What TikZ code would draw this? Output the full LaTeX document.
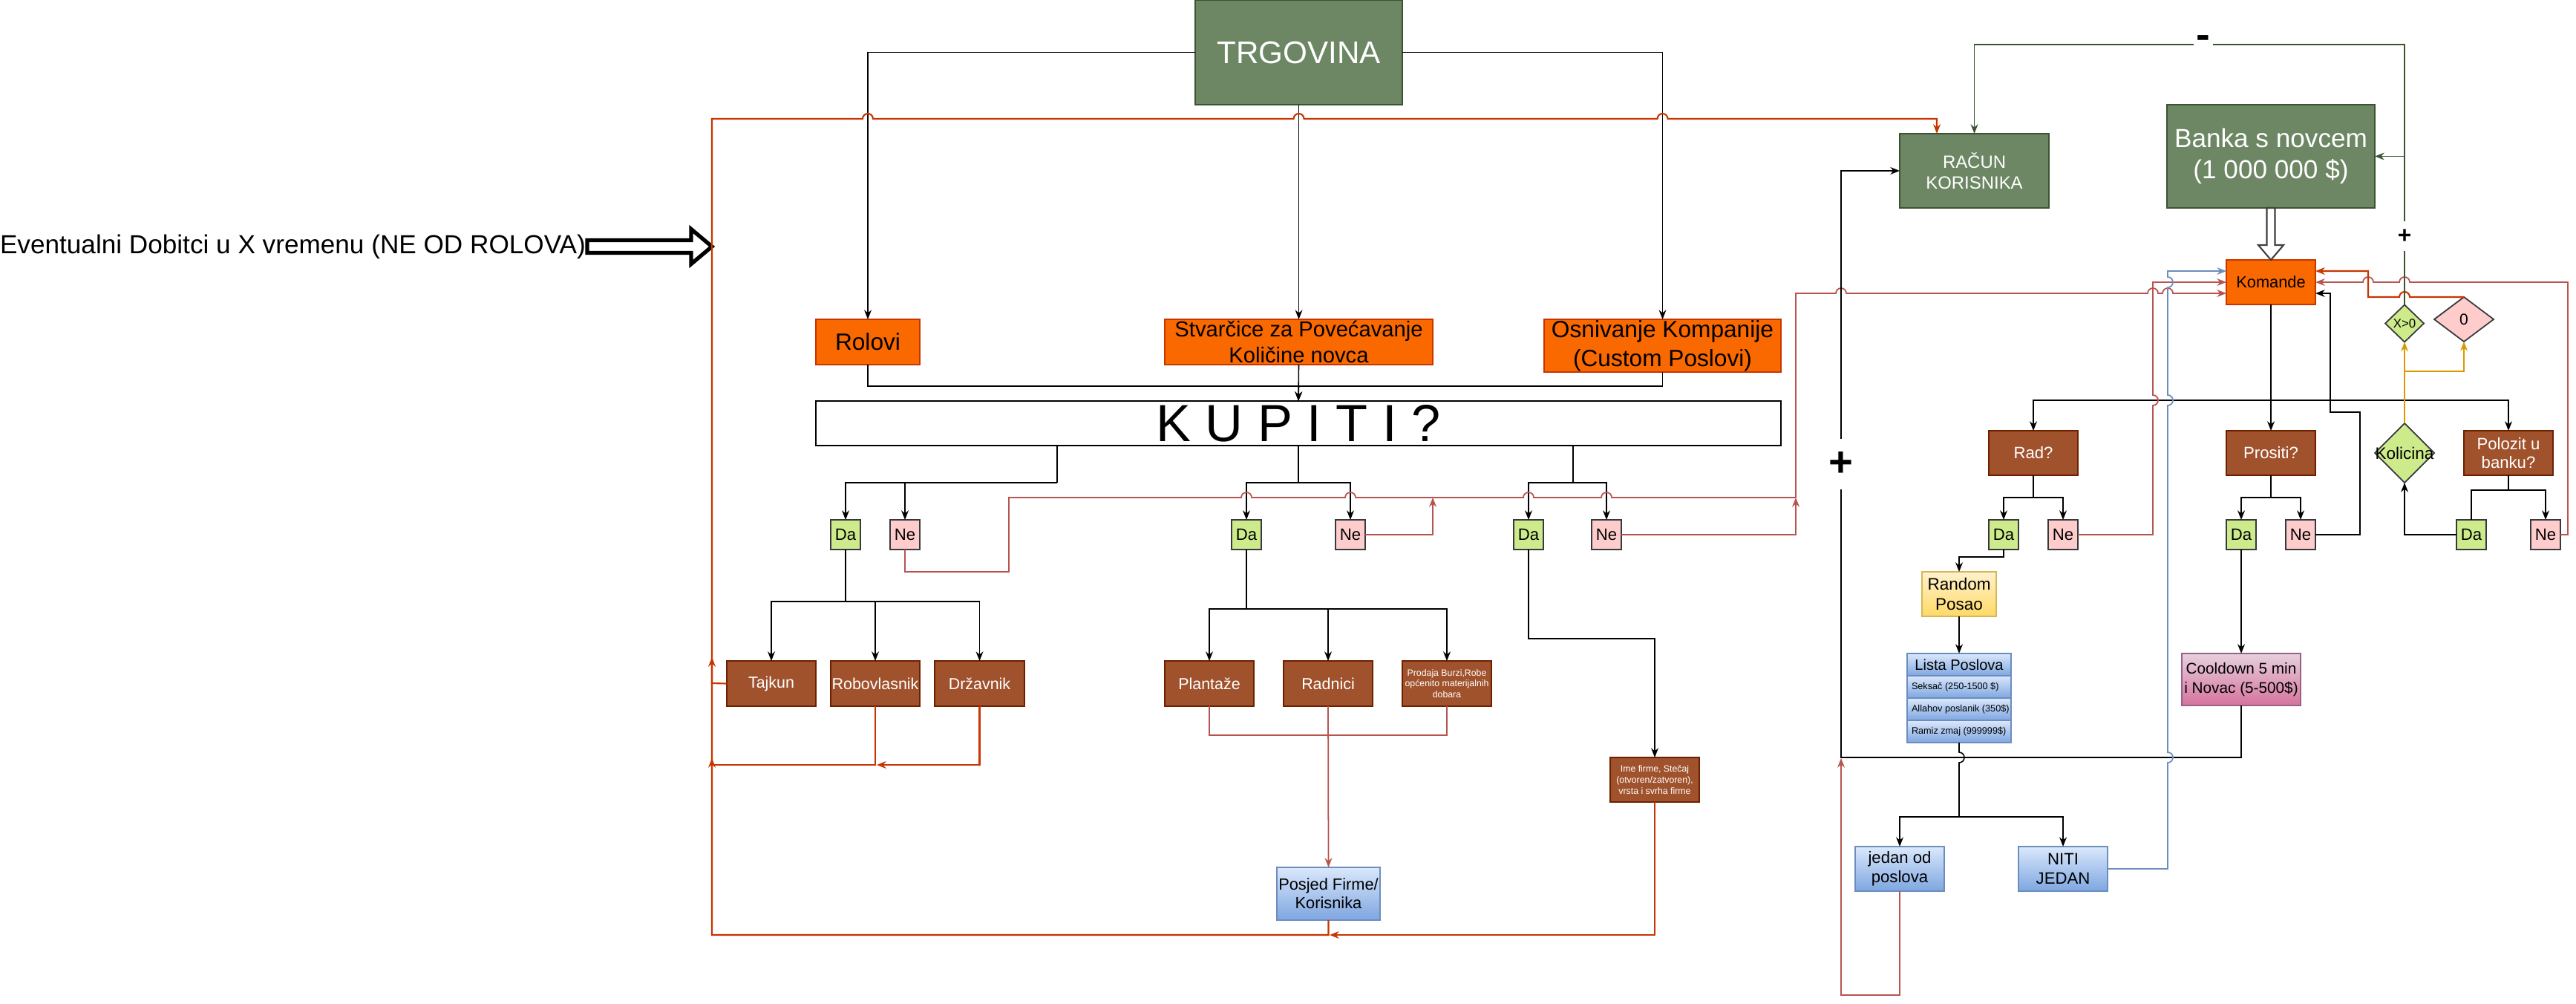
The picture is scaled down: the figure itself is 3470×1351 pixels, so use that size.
\documentclass[tikz,border=0pt]{standalone}
\usepackage{fontspec}
\setmainfont{Liberation Sans}
\usetikzlibrary{arrows.meta,shapes.geometric,calc}
\definecolor{cGf}{HTML}{6D8764}
\definecolor{cGs}{HTML}{3A5431}
\definecolor{cOf}{HTML}{FA6800}
\definecolor{cOs}{HTML}{C73500}
\definecolor{cBf}{HTML}{A0522D}
\definecolor{cBs}{HTML}{6D1F00}
\definecolor{cDa}{HTML}{CDEB8B}
\definecolor{cNe}{HTML}{FFCCCC}
\definecolor{cDN}{HTML}{36393D}
\definecolor{cBlA}{HTML}{DAE8FC}
\definecolor{cBlB}{HTML}{7EA6E0}
\definecolor{cBlS}{HTML}{6C8EBF}
\definecolor{cYeA}{HTML}{FFF2CC}
\definecolor{cYeB}{HTML}{FFD966}
\definecolor{cYeS}{HTML}{D6B656}
\definecolor{cPkA}{HTML}{E6D0DE}
\definecolor{cPkB}{HTML}{D5739D}
\definecolor{cPkS}{HTML}{996185}
\definecolor{cRl}{HTML}{B85450}
\definecolor{cOl}{HTML}{D79B00}
\newcommand\fsz[2]{\fontsize{#1}{#2}\selectfont}
\newcommand\bx[7]{\node[#6,minimum width={(#4-#2)*0.01cm},minimum height={(#5-#3)*0.01cm}] (#1) at ({(#2+#4)/2},{(#3+#5)/2}) {#7};}
\tikzset{
 nd/.style={inner sep=0pt,outer sep=0pt,align=center,line width=0.5pt},
 gbox/.style={nd,draw=cGs,fill=cGf,text=white},
 obox/.style={nd,draw=cOs,fill=cOf,text=black},
 bbox/.style={nd,draw=cBs,fill=cBf,text=white},
 dabox/.style={nd,draw=cDN,fill=cDa,font=\fsz{6.3}{7.5}},
 nebox/.style={nd,draw=cDN,fill=cNe,font=\fsz{6.3}{7.5}},
 blbox/.style={nd,draw=cBlS,top color=cBlA,bottom color=cBlB},
 yebox/.style={nd,draw=cYeS,top color=cYeA,bottom color=cYeB},
 pkbox/.style={nd,draw=cPkS,top color=cPkA,bottom color=cPkB},
 arw/.style={-{Stealth[length=3.6pt,width=2.8pt]}},
 lnbk/.style={line width=0.45pt,draw=black},
 lnrd/.style={line width=0.5pt,draw=cRl},
 lnro/.style={line width=0.6pt,draw=cOs},
 lngr/.style={line width=0.5pt,draw=cGs},
 lnol/.style={line width=0.5pt,draw=cOl},
 lnbl/.style={line width=0.5pt,draw=cBlS},
}
\begin{document}
\begin{tikzpicture}[x=0.01cm,y=-0.01cm]
\fill[white] (0,0) rectangle (3470,1351);
\useasboundingbox (0,0) rectangle (3470,1351);
% ---------- nodes ----------
\node[nd,anchor=west,font=\fsz{10}{12}] (ev) at (0,332) {Eventualni Dobitci u X vremenu (NE OD ROLOVA)};
\bx{trg}{1610}{0}{1889}{141}{gbox,font=\fsz{12}{14}}{TRGOVINA}
\bx{rol}{1099}{430}{1239}{491}{obox,font=\fsz{9}{11}}{Rolovi}
\bx{stv}{1569}{430}{1930}{491}{obox,font=\fsz{8.3}{10}}{Stvarčice za Povećavanje\\Količine novca}
\bx{osn}{2080}{430}{2399}{501}{obox,font=\fsz{9}{11}}{Osnivanje Kompanije\\(Custom Poslovi)}
\bx{kup}{1099}{540}{2399}{600}{nd,draw=black,fill=white,font=\fsz{20}{22}}{K U P I T I ?}
\bx{da1}{1119}{700}{1159}{740}{dabox}{Da}
\bx{ne1}{1199}{700}{1239}{740}{nebox}{Ne}
\bx{da2}{1659}{700}{1699}{740}{dabox}{Da}
\bx{ne2}{1799}{700}{1839}{740}{nebox}{Ne}
\bx{da3}{2039}{700}{2079}{740}{dabox}{Da}
\bx{ne3}{2144}{700}{2184}{740}{nebox}{Ne}
\bx{taj}{979}{890}{1099}{951}{bbox,font=\fsz{6.1}{7}}{Tajkun}
\bx{rob}{1119}{890}{1239}{951}{bbox,font=\fsz{6.1}{7}}{Robovlasnik}
\bx{drz}{1259}{890}{1380}{951}{bbox,font=\fsz{6.1}{7}}{Državnik}
\bx{pla}{1569}{890}{1689}{951}{bbox,font=\fsz{6.1}{7}}{Plantaže}
\bx{rdn}{1729}{890}{1849}{951}{bbox,font=\fsz{6.1}{7}}{Radnici}
\bx{pro}{1889}{890}{2009}{951}{bbox,font=\fsz{3.5}{4.2}}{Prodaja Burzi,Robe\\općenito materijalnih\\dobara}
\bx{ime}{2169}{1020}{2289}{1080}{bbox,font=\fsz{3.5}{4.2}}{Ime firme, Stečaj\\(otvoren/zatvoren),\\vrsta i svrha firme}
\bx{pos}{1720}{1168}{1859}{1239}{blbox,font=\fsz{6.2}{7.2}}{Posjed Firme/\\Korisnika}
\bx{rac}{2559}{180}{2760}{280}{gbox,font=\fsz{6.8}{8}}{RAČUN\\KORISNIKA}
\bx{ban}{2919}{141}{3199}{280}{gbox,font=\fsz{10}{12}}{Banka s novcem\\(1 000 000 \$)}
\bx{kom}{2999}{350}{3119}{410}{obox,font=\fsz{6.2}{7}}{Komande}
\node[nd,diamond,draw=cDN,fill=cDa,minimum width=0.52cm,minimum height=0.5cm] (xg) at (3239,435.5) {};
\node[nd,font=\fsz{4.8}{5}] (xgt) at (xg) {X>0};
\node[nd,diamond,draw=cDN,fill=cNe,minimum width=0.8cm,minimum height=0.6cm] (zero) at (3319,430) {};
\node[nd,font=\fsz{6}{7}] (zerot) at (zero) {0};
\node[nd,diamond,draw=cDN,fill=cDa,minimum width=0.8cm,minimum height=0.8cm] (kol) at (3239,610) {};
\node[nd,font=\fsz{6.4}{7}] (kolt) at (kol) {Kolicina};
\bx{rad}{2679}{580}{2799}{640}{bbox,font=\fsz{6.3}{7.5}}{Rad?}
\bx{prs}{2999}{580}{3119}{640}{bbox,font=\fsz{6.3}{7.5}}{Prositi?}
\bx{pol}{3319}{580}{3439}{640}{bbox,font=\fsz{6.3}{7.2}}{Polozit u\\banku?}
\bx{rda}{2679}{700}{2719}{740}{dabox}{Da}
\bx{rne}{2759}{700}{2799}{740}{nebox}{Ne}
\bx{pda}{2999}{700}{3039}{740}{dabox}{Da}
\bx{pne}{3079}{700}{3119}{740}{nebox}{Ne}
\bx{lda}{3309}{700}{3349}{740}{dabox}{Da}
\bx{lne}{3409}{700}{3449}{740}{nebox}{Ne}
\bx{rnd}{2589}{770}{2689}{830}{yebox,font=\fsz{6.4}{7.6}}{Random\\Posao}
\bx{lst}{2569}{880}{2709}{910}{blbox,font=\fsz{5.7}{7}}{Lista Poslova}
\bx{ls1}{2569}{910}{2709}{940}{blbox,font=\fsz{3.6}{4.3}}{\makebox[1.28cm][l]{Seksač (250-1500 \$)}}
\bx{ls2}{2569}{940}{2709}{970}{blbox,font=\fsz{3.6}{4.3}}{\makebox[1.28cm][l]{Allahov poslanik (350\$)}}
\bx{ls3}{2569}{970}{2709}{1000}{blbox,font=\fsz{3.6}{4.3}}{\makebox[1.28cm][l]{Ramiz zmaj (999999\$)}}
\bx{cool}{2939}{880}{3099}{950}{pkbox,font=\fsz{5.9}{7.6}}{Cooldown 5 min\\i Novac (5-500\$)}
\bx{jed}{2499}{1140}{2619}{1200}{blbox,font=\fsz{6.3}{7.4}}{jedan od\\poslova}
\bx{nit}{2719}{1140}{2839}{1200}{blbox,font=\fsz{6.3}{7.4}}{NITI\\JEDAN}
% ---------- coordinates ----------
\coordinate (kwA) at ($(kom.north west)+(0,15)$);
\coordinate (kwB) at ($(kom.north west)+(0,30)$);
\coordinate (kwC) at ($(kom.north west)+(0,45)$);
\coordinate (keA) at ($(kom.north east)+(0,15)$);
\coordinate (keB) at ($(kom.north east)+(0,30)$);
\coordinate (keC) at ($(kom.north east)+(0,45)$);
% ---------- hollow arrows ----------
\draw[line width=1.5pt,fill=white] (791,323.5) -- (931,323.5) -- (931,308.5) -- (959,332) -- (931,355.5) -- (931,340.5) -- (791,340.5) -- cycle;
\draw[line width=0.6pt,draw=black!75,fill=white] ($(ban.south)+(-5.5,0)$) -- ($(ban.south)+(5.5,0)$) -- ($(ban.south)+(5.5,50)$) -- ($(ban.south)+(17,50)$) -- (kom.north) -- ($(ban.south)+(-17,50)$) -- ($(ban.south)+(-5.5,50)$) -- cycle;
% ---------- TRGOVINA part ----------
\draw[lnbk,arw] (trg.west) -| (rol.north);
\draw[lnbk,arw] (trg.east) -| (osn.north);
\draw[lnbk,arw] (trg.south) -- (stv.north);
\draw[lnbk,arw] (stv.south) -- (kup.north);
\coordinate (kj) at (1749.5,520);
\draw[lnbk] (rol.south) |- (kj) -| (osn.south);
\draw[lnbk,arw] (kj) -- (kup.north);
\coordinate (ks1) at (1424,650);
\coordinate (ks2) at (1749,650);
\coordinate (ks3) at (2119,650);
\draw[lnbk] (kup.south -| ks1) -- (ks1);
\draw[lnbk] (kup.south -| ks2) -- (ks2);
\draw[lnbk] (kup.south -| ks3) -- (ks3);
\draw[lnbk,arw] (ks1) -| (da1.north);
\draw[lnbk,arw] (ks1) -| (ne1.north);
\draw[lnbk,arw] (ks2) -| (da2.north);
\draw[lnbk,arw] (ks2) -| (ne2.north);
\draw[lnbk,arw] (ks3) -| (da3.north);
\draw[lnbk,arw] (ks3) -| (ne3.north);
\coordinate (d1) at (1139,810);
\draw[lnbk] (da1.south) -- (d1);
\draw[lnbk,arw] (d1) -| (taj.north);
\draw[lnbk,arw] (d1) -| (rob.north);
\draw[lnbk,arw] (d1) -| (drz.north);
\coordinate (d2) at (1679,820);
\draw[lnbk] (da2.south) -- (d2);
\draw[lnbk,arw] (d2) -| (pla.north);
\draw[lnbk,arw] (d2) -| (rdn.north);
\draw[lnbk,arw] (d2) -| (pro.north);
\draw[lnbk,arw] (da3.south) -- ++(0,120) -| (ime.north);
\draw[lnrd] (pla.south) -- ++(0,39) -| (pro.south);
\draw[lnrd,arw] (rdn.south) -- (pos.north);
% red Ne lines
\coordinate (j2) at (1930,670);
\coordinate (j3) at (2419,670);
\draw[lnrd,arw] (ne1.south) -- (1219,770) -- (1359,770) -- (1359,670)
 -- (1672,670) arc[start angle=180,end angle=360,radius=7]
 -- (1812,670) arc[start angle=180,end angle=360,radius=7]
 -- (2052,670) arc[start angle=180,end angle=360,radius=7]
 -- (2157,670) arc[start angle=180,end angle=360,radius=7]
 -- (j3) -- (2419,395)
 -- (2473,395) arc[start angle=180,end angle=360,radius=7]
 -- (2893,395) arc[start angle=180,end angle=360,radius=7]
 -- (2913,395) arc[start angle=180,end angle=360,radius=7]
 -- (kwC);
\draw[lnrd,arw] (ne2.east) -| (j2);
\draw[lnrd,arw] (ne3.east) -| (j3);
% orange-red loops
\draw[lnro,arw] (taj.west) -- (959,920) -- (959,885);
\draw[lnro,arw] (rob.south) -- (1179,1030) -- (959,1030) -- (959,1021);
\draw[lnro,arw] (drz.south) -- (1319.5,1030) -- (1181,1030);
\draw[lnro,arw] (ime.south) -- (2229,1259) -- (1791,1259);
\draw[lnro,arw] (pos.south) -- (1789.5,1259) -- (959,1259) -- (959,160)
 -- (1162,160) arc[start angle=180,end angle=360,radius=7]
 -- (1742.5,160) arc[start angle=180,end angle=360,radius=7]
 -- (2232.5,160) arc[start angle=180,end angle=360,radius=7]
 -- (2609,160) -- ($(rac.north)+(-50.5,0)$);
% ---------- right part ----------
\draw[lnbk,arw] (kom.south) -- (prs.north);
\coordinate (kb) at (3059,539);
\draw[lnbk,arw] (kb) -| (rad.north);
\draw[lnbk,arw] (kb) -| (pol.north);
\draw[lnbk] (rad.south) -- ++(0,30) coordinate (rs);
\draw[lnbk,arw] (rs) -| (rda.north);
\draw[lnbk,arw] (rs) -| (rne.north);
\draw[lnbk] (prs.south) -- ++(0,30) coordinate (ps);
\draw[lnbk,arw] (ps) -| (pda.north);
\draw[lnbk,arw] (ps) -| (pne.north);
\draw[lnbk] (pol.south) -- ++(0,20) coordinate (pls);
\draw[lnbk] (pls) -| (lda.north);
\draw[lnbk,arw] (pls) -| (lne.north);
\draw[lnbk,arw] (lda.west) -| (kol.south);
\draw[lnbk,arw] (pne.east) -- (3179,720) -- (3179,555) -- (3139,555) -- (3139,395) -- (keC);
\draw[lnbk,arw] (rda.south) -- ++(0,10) -| (rnd.north);
\draw[lnbk,arw] (rnd.south) -- (lst.north);
\draw[lnbk,arw] (pda.south) -- (cool.north);
\draw[lnbk,arw] (cool.south) -- (3019,1020) -- (2480,1020) -- (2480,230) -- (rac.west);
\draw[lnbk] (ls3.south) -- (2639,1013) arc[start angle=-90,end angle=90,radius=7] -- (2639,1100) coordinate (lj);
\draw[lnbk,arw] (lj) -| (jed.north);
\draw[lnbk,arw] (lj) -| (nit.north);
\draw[lnrd,arw] (rne.east) -- (2900,720) -- (2900,546) arc[start angle=90,end angle=-90,radius=7] -- (2900,380) -- (kwB);
\draw[lnrd,arw] (lne.east) -- (3459,720) -- (3459,380)
 -- (3246,380) arc[start angle=0,end angle=-180,radius=7]
 -- (3197,380) arc[start angle=0,end angle=-180,radius=7]
 -- (keB);
\draw[lnrd,arw] (jed.south) -- (2559,1340) -- (2480,1340) -- (2480,1021);
\draw[lnro,arw] (zero.north) -- (3246,400) arc[start angle=0,end angle=-180,radius=7] -- (3190,400) -- (3190,365) -- (keA);
\draw[lnbl,arw] (nit.east) -- (2920,1170)
 -- (2920,1027) arc[start angle=90,end angle=-90,radius=7]
 -- (2920,546) arc[start angle=90,end angle=-90,radius=7]
 -- (2920,387) arc[start angle=90,end angle=-90,radius=7]
 -- (2920,365) -- (kwA);
\draw[lngr,arw] (xg.north) -- (3239,60) -- (2659.5,60) -- (rac.north);
\draw[lngr,arw] (ban.east -| xg.north) -- (ban.east);
\coordinate (ob) at (3239,500);
\draw[lnol,arw] (kol.north) -- (xg.south);
\draw[lnol,arw] (ob) -| (zero.south);
% ---------- labels on lines ----------
\node[fill=white,font=\bfseries\fsz{9}{10},inner xsep=1pt,inner ysep=3pt] (plusb) at (3239,318) {+};
\node[fill=white,font=\bfseries\fsz{16}{18},inner xsep=1pt,inner ysep=5pt] (plusa) at (2480,625) {+};
\node[fill=white,font=\bfseries\fsz{16}{18},inner sep=1pt] (minus) at (2968,57) {-};
\end{tikzpicture}
\end{document}
